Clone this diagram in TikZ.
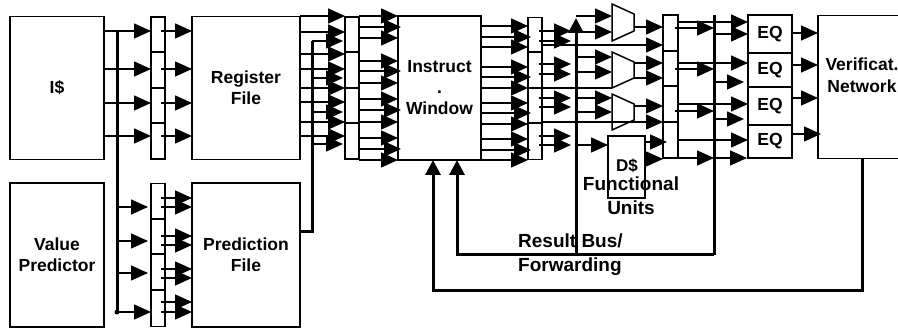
\documentclass[tikz,border=0pt]{standalone}
\usepackage{fontspec}
\setmainfont{Liberation Sans}
\usetikzlibrary{arrows.meta, positioning, calc}

\begin{document}
\begin{tikzpicture}[x=1pt,y=-1pt,>={Triangle[length=17pt,width=15pt]},
        box/.style={draw,line width=1.5pt,outer sep=0pt,inner sep=0pt,align=center,
        font=\fontsize{17.5}{21}\selectfont\bfseries},
        latch/.style={box,minimum width=14pt,minimum height=142pt},
        arw/.style={->,line width=1.5pt},
        arwin/.style={arw,shorten <=-4pt},
        arwover/.style={arw,shorten >=-3pt},
        wire/.style={line width=1.5pt},
        bus/.style={line width=3pt},
        fb/.style={->,line width=3pt,>={Triangle[length=15pt,width=15pt]}},
        label/.style={font=\fontsize{19}{24}\selectfont\bfseries,align=left,inner sep=0pt}]
      \useasboundingbox (0,0) rectangle (898,328);
      % large blocks
      \node[box,minimum width=94pt,minimum height=143pt] (icache) at (57,88) {I\$};
      \node[box,minimum width=94pt,minimum height=144pt] (vpred) at (57,255) {Value\\Predictor};
      \node[box,minimum width=108pt,minimum height=143pt] (regfile) at (246,88) {Register\\File};
      \node[box,minimum width=108pt,minimum height=144pt] (predfile) at (246,255) {Prediction\\File};
      \node[box,minimum width=83pt,minimum height=144pt] (window) at (439.5,88) {Instruct\\.\\Window};
      \node[box,minimum width=90pt,minimum height=143pt] (verify) at (863,87) {};
      \node[font=\fontsize{17.5}{22}\selectfont\bfseries,align=center,inner sep=0pt] (verifytext) at (862,75) {Verificat.\\Network};
      % latches
      \node[latch] (latA) at (158,88) {};
      \node[latch,minimum height=143pt] (latB) at (158,255) {};
      \node[latch] (latC) at (352,88) {};
      \node[latch] (latD) at (535,88.5) {};
      \node[latch,minimum width=15pt,minimum height=143pt] (latE) at (670.5,86.5) {};
      \foreach \n/\a/\b/\c in {latA/52/88/123,latB/219/254/290,latC/52/88/123,latD/52/88/123,latE/51/86/122}
        \foreach \y in {\a,\b,\c}
          \draw[wire] (\n.west |- 0,\y) -- (\n.east |- 0,\y);
      % equality checks
      \node[box,minimum width=44pt,minimum height=38pt] (eqA) at (770,34) {EQ};
      \node[box,minimum width=44pt,minimum height=34pt] (eqB) at (770,70) {EQ};
      \node[box,minimum width=44pt,minimum height=38pt] (eqC) at (770,106) {EQ};
      \node[box,minimum width=44pt,minimum height=33pt] (eqD) at (770,141.5) {EQ};
      % functional units
      \coordinate (aluL) at (612,0);
      \coordinate (aluR) at (634,0);
      \coordinate (resbus) at (576,0);
      \coordinate (chkbus) at (714,0);
      \foreach \a/\n in {4/37,52/36,94/36}
        \draw[wire] (aluL |- 0,\a) -- (aluR |- 0,{\a+10}) -- (aluR |- 0,{\a+\n-10}) -- (aluL |- 0,{\a+\n}) -- cycle;
      \node[box,minimum width=37pt,minimum height=62pt] (dcache) at (626.5,167) {};
      \node[font=\fontsize{17}{20}\selectfont\bfseries,inner sep=0pt] (dcachetext) at (627,166) {D\$};
      \node[label,align=center] (fulabel) at (631,196) {Functional\\Units};
      \node[label,anchor=west] (rblabel) at (518,255) {Result Bus/\\Forwarding};
      % fetch stage
      \draw[bus] (117,30) coordinate (fetchtop) -- (117,312) coordinate (fetchbot);
      \fill (fetchbot) circle (2.5pt);
      \foreach \y in {31,69,103,136}{
        \draw[arw] (icache.east |- 0,\y) -- (latA.west |- 0,\y);
        \draw[arwin] (latA.east |- 0,\y) -- (regfile.west |- 0,\y);
      }
      \foreach \y/\e in {207/3,241/3,273/3,312/0}
        \draw[arw,shorten >=\e pt] (fetchtop |- 0,\y) -- (latB.west |- 0,\y);
      \foreach \y in {198,207,236,245,269,278,302,312}
        \draw[arwin] (latB.east |- 0,\y) -- (predfile.west |- 0,\y);
      % to the window
      \draw[bus] (predfile.east |- 0,232) -- (312,232) coordinate (predbus) -- (312,41);
      \foreach \y in {16,32,54,69,88,102,122,136}
        \draw[arw] (regfile.east |- 0,\y) -- (latC.west |- 0,\y);
      \foreach \y in {41,78,112,144}
        \draw[arw,shorten >=2pt] (predbus |- 0,\y) -- (latC.west |- 0,\y);
      \foreach \y in {16,38,61,83,99,122,138,160}
        \draw[arw] (latC.east |- 0,\y) -- (window.west |- 0,\y);
      \foreach \y in {27,71,110,149}
        \draw[arwover] (latC.east |- 0,\y) -- (window.west |- 0,\y);
      \foreach \y in {26,47,67,88,103,124,139,160}
        \draw[arw] (window.east |- 0,\y) -- (latD.west |- 0,\y);
      \foreach \y in {37,77,113,150}
        \draw[arwover] (window.east |- 0,\y) -- (latD.west |- 0,\y);
      % execute stage
      \draw[fb] (resbus |- 0,255) -- (resbus |- 0,18);
      \foreach \y in {31,41,64,74,98,107,136,145}
        \draw[arw,shorten >=5pt,shorten <=-3pt] (latD.east |- 0,\y) -- (resbus |- 0,\y);
      \foreach \y in {16,32,57,72,98,112}
        \draw[arw] (resbus |- 0,\y) -- (aluL |- 0,\y);
      \draw[arw] (resbus |- 0,145) -- (dcache.west |- 0,145);
      \foreach \y in {27,63,78,106}
        \draw[arw] (aluR |- 0,\y) -- (latE.west |- 0,\y);
      \foreach \y in {45,122}
        \draw[arw] (latD.east |- 0,\y) -- (latE.west |- 0,\y);
      \draw[wire] (latD.east |- 0,88) -- (aluL |- 0,88);
      \draw[arw,shorten >=-4pt] (dcache.east |- 0,142) -- (latE.west |- 0,142);
      \draw[arw] (dcache.east |- 0,159) -- (latE.west |- 0,159);
      % checking stage
      \draw[bus] (chkbus |- 0,15) -- (chkbus |- 0,255) coordinate (chkbot);
      \foreach \y in {22,63,104,140}
        \draw[arw] (latE.east |- 0,\y) -- (eqA.west |- 0,\y);
      \foreach \y in {28,69,111}
        \draw[arw,shorten <=-3pt] (latE.east |- 0,\y) -- (chkbus |- 0,\y);
      \draw[arw] (latE.east |- 0,158) -- (chkbus |- 0,158);
      \foreach \y/\e in {34/0,82/4,119/4,158/1}
        \draw[arw,shorten >=\e pt] (chkbus |- 0,\y) -- (eqA.west |- 0,\y);
      \draw[arw] (eqA.east |- 0,33) -- (verify.west |- 0,33);
      \draw[arw] (eqB.east |- 0,65) -- (verify.west |- 0,65);
      \draw[arw] (eqC.east |- 0,98) -- (verify.west |- 0,98);
      \draw[arw,shorten >=-3pt] (eqD.east |- 0,134) -- (verify.west |- 0,134);
      % feedback
      \draw[fb] (chkbot) -- (457,255) coordinate (fwdA) -- (fwdA |- window.south);
      \draw[fb] (verify.south -| 862,0) -- (862,291) -- (433,291) coordinate (fwdB) -- (fwdB |- window.south);
      \draw[bus] (resbus |- 0,255) -- (chkbot);
    \end{tikzpicture}
\end{document}
